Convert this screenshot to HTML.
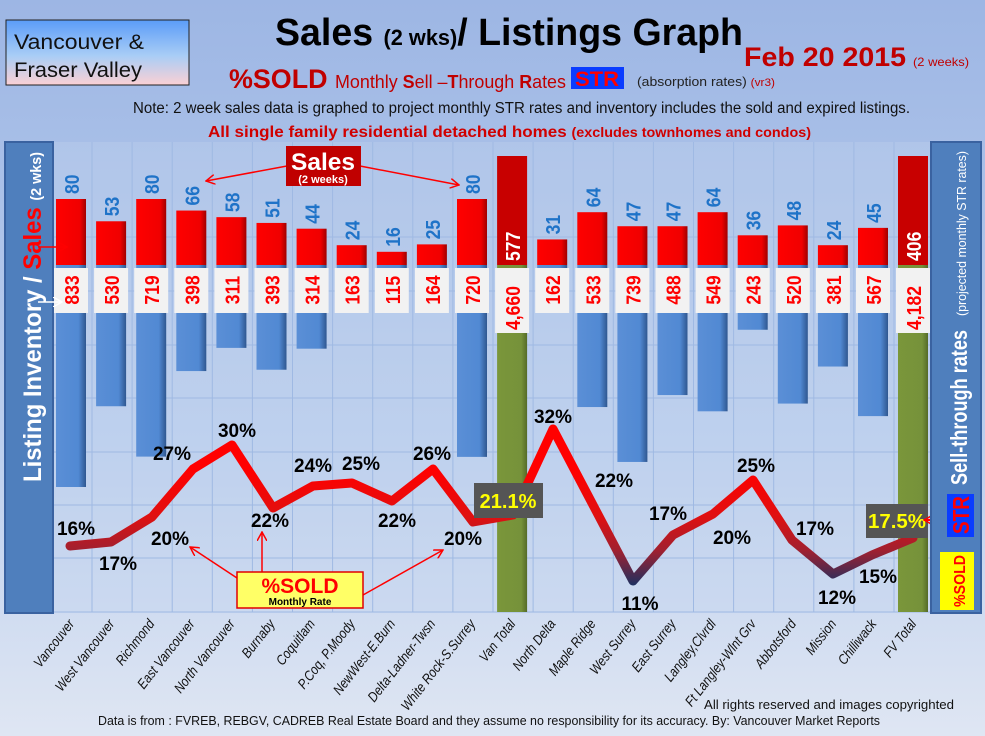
<!DOCTYPE html>
<html><head><meta charset="utf-8"><style>
html,body{margin:0;padding:0;background:#a3bce6;}
svg{display:block;font-family:"Liberation Sans Narrow","Liberation Sans",sans-serif;}
</style></head><body>
<svg width="985" height="736" viewBox="0 0 985 736" xmlns="http://www.w3.org/2000/svg">
<defs>
<linearGradient id="bg" x1="0" y1="0" x2="0" y2="1">
<stop offset="0" stop-color="#9db6e4"/><stop offset="0.6" stop-color="#bccfee"/><stop offset="1" stop-color="#dfe6f3"/></linearGradient>
<linearGradient id="vf" x1="0" y1="0" x2="0" y2="1">
<stop offset="0" stop-color="#5b9cf8"/><stop offset="0.55" stop-color="#a9cdf6"/><stop offset="1" stop-color="#fbd0d4"/></linearGradient>
<linearGradient id="rb" x1="0" y1="0" x2="1" y2="0">
<stop offset="0" stop-color="#ff0000"/><stop offset="0.8" stop-color="#f00000"/><stop offset="1" stop-color="#a00000"/></linearGradient>
<linearGradient id="bb" x1="0" y1="0" x2="1" y2="0">
<stop offset="0" stop-color="#5b8fd6"/><stop offset="0.75" stop-color="#5189d3"/><stop offset="1" stop-color="#2f5790"/></linearGradient>
<linearGradient id="gb" x1="0" y1="0" x2="1" y2="0">
<stop offset="0" stop-color="#7a963a"/><stop offset="0.8" stop-color="#76923a"/><stop offset="1" stop-color="#556b28"/></linearGradient>
<linearGradient id="ln" gradientUnits="userSpaceOnUse" x1="0" y1="470" x2="0" y2="585">
<stop offset="0" stop-color="#ff0000"/><stop offset="0.4" stop-color="#e01010"/><stop offset="0.7" stop-color="#a02030"/><stop offset="1" stop-color="#1f3060"/></linearGradient>
<marker id="ar" markerWidth="10" markerHeight="10" refX="9" refY="5" orient="auto" markerUnits="userSpaceOnUse"><path d="M0,0 L9,5 L0,10" fill="none" stroke="#ff0000" stroke-width="1.5"/></marker>
<marker id="aw" markerWidth="10" markerHeight="10" refX="9" refY="5" orient="auto" markerUnits="userSpaceOnUse"><path d="M0,0 L9,5 L0,10" fill="none" stroke="#fff" stroke-width="1.5"/></marker>
</defs>
<rect width="985" height="736" fill="url(#bg)"/>

<rect x="6" y="20" width="183" height="65" fill="url(#vf)" stroke="#222" stroke-width="1"/>
<text x="14" y="49" font-size="21" fill="#111" textLength="130" lengthAdjust="spacingAndGlyphs">Vancouver &amp;</text>
<text x="14" y="77" font-size="21" fill="#111" textLength="128" lengthAdjust="spacingAndGlyphs">Fraser Valley</text>
<text x="275" y="45" font-size="38" font-weight="bold" fill="#000" textLength="468" lengthAdjust="spacingAndGlyphs">Sales <tspan font-size="22">(2 wks)</tspan>/ Listings Graph</text>
<text x="744" y="66" font-size="27" font-weight="bold" fill="#c00000" textLength="162" lengthAdjust="spacingAndGlyphs">Feb 20 2015</text>
<text x="913" y="66" font-size="12" fill="#c00000" textLength="56" lengthAdjust="spacingAndGlyphs">(2 weeks)</text>
<text x="229" y="88" font-size="27" font-weight="bold" fill="#c00000" textLength="337" lengthAdjust="spacingAndGlyphs">%SOLD <tspan font-size="18" font-weight="normal">Monthly <tspan font-weight="bold">S</tspan>ell –<tspan font-weight="bold">T</tspan>hrough <tspan font-weight="bold">R</tspan>ates</tspan></text>
<rect x="571" y="67" width="53" height="22" fill="#0a3cff"/>
<text x="575" y="86" font-size="21" font-weight="bold" fill="#ff0000" font-family="Liberation Sans,sans-serif" textLength="44" lengthAdjust="spacingAndGlyphs">STR</text>
<text x="637" y="86" font-size="13" fill="#222" textLength="138" lengthAdjust="spacingAndGlyphs">(absorption rates) <tspan fill="#c00000" font-size="11">(vr3)</tspan></text>
<text x="133" y="113" font-size="15.5" fill="#111" textLength="777" lengthAdjust="spacingAndGlyphs">Note: 2 week sales data is graphed to project monthly STR rates and inventory includes the sold and expired listings.</text>
<text x="208" y="137" font-size="16" font-weight="bold" fill="#d00000" textLength="603" lengthAdjust="spacingAndGlyphs">All single family residential detached homes <tspan font-size="13.5">(excludes townhomes and condos)</tspan></text>

<rect x="53" y="142" width="878" height="471" fill="#c3d3ee" opacity="0.35"/>
<g stroke="#9fb9e3" stroke-width="1">
<line x1="53" y1="237" x2="931" y2="237"/><line x1="53" y1="291" x2="931" y2="291"/><line x1="53" y1="345" x2="931" y2="345"/><line x1="53" y1="398" x2="931" y2="398"/><line x1="53" y1="452" x2="931" y2="452"/><line x1="53" y1="505" x2="931" y2="505"/><line x1="53" y1="558" x2="931" y2="558"/><line x1="53" y1="612" x2="931" y2="612"/>
</g>
<g id="vg" stroke="#9fb9e3" stroke-width="1"></g>

<g id="bars"></g>
<g id="lbl"></g>

<polyline points="70,546 111,542 152,517 193,469 232,445 273,508 313,486 352,483 392,501 433,469 473,522 513,515 553,429 593,505 633,581 673,535 713,514 753,480 792,540 833,574 872,555 913,538" fill="none" stroke="url(#ln)" stroke-width="9" stroke-linejoin="round" stroke-linecap="round"/>

<g font-size="19" font-weight="bold" fill="#000" text-anchor="middle">
<text x="76" y="535">16%</text><text x="118" y="570">17%</text><text x="170" y="545">20%</text><text x="172" y="460">27%</text><text x="237" y="437">30%</text><text x="270" y="527">22%</text><text x="313" y="472">24%</text><text x="361" y="470">25%</text><text x="397" y="527">22%</text><text x="432" y="460">26%</text><text x="463" y="545">20%</text>
<text x="553" y="423">32%</text><text x="614" y="487">22%</text><text x="640" y="610">11%</text><text x="668" y="520">17%</text><text x="732" y="544">20%</text><text x="756" y="472">25%</text><text x="815" y="535">17%</text><text x="837" y="604">12%</text><text x="878" y="583">15%</text>
</g>

<rect x="474" y="483" width="69" height="35" fill="#555"/>
<text x="508" y="508" font-size="20" font-weight="bold" fill="#ffff00" text-anchor="middle">21.1%</text>
<rect x="866" y="504" width="62" height="34" fill="#555"/>
<text x="897" y="528" font-size="20" font-weight="bold" fill="#ffff00" text-anchor="middle" textLength="58" lengthAdjust="spacingAndGlyphs">17.5%</text>
<line x1="948" y1="520" x2="924" y2="520" stroke="#ff0000" stroke-width="2" marker-end="url(#ar)"/>

<line x1="237" y1="578" x2="190" y2="547" stroke="#ff0000" stroke-width="1.5" marker-end="url(#ar)"/>
<line x1="262" y1="572" x2="262" y2="532" stroke="#ff0000" stroke-width="1.5" marker-end="url(#ar)"/>
<line x1="363" y1="595" x2="443" y2="550" stroke="#ff0000" stroke-width="1.5" marker-end="url(#ar)"/>
<rect x="237" y="572" width="126" height="36" fill="#ffff66" stroke="#e00000" stroke-width="1.5"/>
<text x="300" y="593" font-size="21" font-weight="bold" fill="#ff0000" text-anchor="middle" font-family="Liberation Sans,sans-serif">%SOLD</text>
<text x="300" y="605" font-size="10" font-weight="bold" fill="#000" text-anchor="middle" font-family="Liberation Sans,sans-serif">Monthly Rate</text>

<line x1="287" y1="166" x2="206" y2="181" stroke="#ff0000" stroke-width="1.5" marker-end="url(#ar)"/>
<line x1="360" y1="166" x2="459" y2="185" stroke="#ff0000" stroke-width="1.5" marker-end="url(#ar)"/>
<rect x="286" y="146" width="75" height="40" fill="#c00000"/>
<text x="323" y="170" font-size="24" font-weight="bold" fill="#fff" text-anchor="middle" textLength="64" lengthAdjust="spacingAndGlyphs">Sales</text>
<text x="323" y="183" font-size="11" font-weight="bold" fill="#fff" text-anchor="middle">(2 weeks)</text>

<rect x="5" y="142" width="48" height="471" fill="#4f7fbd" stroke="#3a62a0" stroke-width="2"/>
<text transform="translate(41,482) rotate(-90)" font-size="25" font-weight="bold" fill="#fff" textLength="330" lengthAdjust="spacingAndGlyphs">Listing Inventory / <tspan fill="#ff0000">Sales</tspan> <tspan font-size="15">(2  wks)</tspan></text>
<line x1="38" y1="247" x2="67" y2="247" stroke="#ff0000" stroke-width="1.5" marker-end="url(#ar)"/>
<line x1="38" y1="302" x2="62" y2="302" stroke="#fff" stroke-width="1.5" marker-end="url(#aw)"/>

<rect x="931" y="142" width="50" height="471" fill="#4f7fbd" stroke="#3a62a0" stroke-width="2"/>
<text transform="translate(967,485) rotate(-90)" font-size="23" font-weight="bold" fill="#fff" textLength="155" lengthAdjust="spacingAndGlyphs">Sell-through rates</text>
<text transform="translate(966,316) rotate(-90)" font-size="13" fill="#fff" textLength="165" lengthAdjust="spacingAndGlyphs">(projected monthly STR rates)</text>
<rect x="947" y="494" width="27" height="43" fill="#0a3cff"/>
<text transform="translate(969,534) rotate(-90)" font-size="23" font-weight="bold" fill="#ff0000" font-family="Liberation Sans,sans-serif" textLength="38" lengthAdjust="spacingAndGlyphs">STR</text>
<rect x="940" y="552" width="34" height="58" fill="#ffff00"/>
<text transform="translate(965,607) rotate(-90)" font-size="16" font-weight="bold" fill="#ff0000" font-family="Liberation Sans,sans-serif" textLength="52" lengthAdjust="spacingAndGlyphs">%SOLD</text>

<g id="xl" font-size="14" font-style="italic" fill="#111" text-anchor="end"></g>

<text x="954" y="709" font-size="13" fill="#111" text-anchor="end" textLength="250" lengthAdjust="spacingAndGlyphs">All rights reserved and  images copyrighted</text>
<text x="98" y="725" font-size="12.5" fill="#111" textLength="782" lengthAdjust="spacingAndGlyphs">Data is from : FVREB, REBGV, CADREB Real Estate Board and they assume no responsibility for its accuracy. By: Vancouver Market Reports</text>

<script>
var NS="http://www.w3.org/2000/svg";
function el(p,t,a,txt){var e=document.createElementNS(NS,t);for(var k in a)e.setAttribute(k,a[k]);if(txt!==undefined)e.textContent=txt;document.getElementById(p).appendChild(e);return e;}
for(var k=0;k<22;k++){var x=92+40.1*k;el("vg","line",{x1:x,y1:142,x2:x,y2:612});}
var names=["Vancouver","West Vancouver","Richmond","East Vancouver","North Vancouver","Burnaby","Coquitlam","P.Coq, P.Moody","NewWest-E.Burn","Delta-Ladner-Twsn","White Rock-S.Surrey","Van Total","North Delta","Maple Ridge","West Surrey","East Surrey","Langley,Clvrdl","Ft Langley-Wlnt Grv","Abbotsford","Mission","Chilliwack","FV Total"];
var sales=[80,53,80,66,58,51,44,24,16,25,80,577,31,64,47,47,64,36,48,24,45,406];
var inv=["833","530","719","398","311","393","314","163","115","164","720","4,660","162","533","739","488","549","243","520","381","567","4,182"];
for(var i=0;i<22;i++){
 var cx=71+40.1*i; if(i==21)cx=913;
 var tot=(i==11||i==21);
 var n=parseFloat(inv[i].replace(",",""));
 if(tot){
  el("bars","rect",{x:cx-15,y:156,width:30,height:109,fill:"#c80000"});
  el("bars","rect",{x:cx-15,y:265,width:30,height:347,fill:"url(#gb)"});
  el("lbl","text",{transform:"translate("+(cx+8)+",261) rotate(-90) scale(0.88,1)","font-size":20,"font-weight":"bold",fill:"#fff"},String(sales[i]));
  el("lbl","rect",{x:cx-17,y:268,width:34,height:65,fill:"#f2f2f2"});
  el("lbl","text",{transform:"translate("+(cx+8)+",330) rotate(-90) scale(0.88,1)","font-size":20,"font-weight":"bold",fill:"#ff0000"},inv[i]);
 } else {
  var h=sales[i]*0.825;
  el("bars","rect",{x:cx-15,y:265,width:30,height:n*0.2665,fill:"url(#bb)"});
  el("bars","rect",{x:cx-15,y:265-h,width:30,height:h,fill:"url(#rb)"});
  el("lbl","text",{transform:"translate("+(cx+8)+","+(265-h-5)+") rotate(-90) scale(0.88,1)","font-size":20,"font-weight":"bold",fill:"#1f73c8"},String(sales[i]));
  el("lbl","rect",{x:cx-17,y:268,width:34,height:45,fill:"#f2f2f2"});
  el("lbl","text",{transform:"translate("+(cx+8)+",290) rotate(-90) scale(0.88,1)","font-size":20,"font-weight":"bold",fill:"#ff0000","text-anchor":"middle"},inv[i]);
 }
 el("xl","text",{transform:"translate("+(cx+4)+",624) rotate(-52) scale(0.85,1)"},names[i]);
}
</script>
</svg>
</body></html>
